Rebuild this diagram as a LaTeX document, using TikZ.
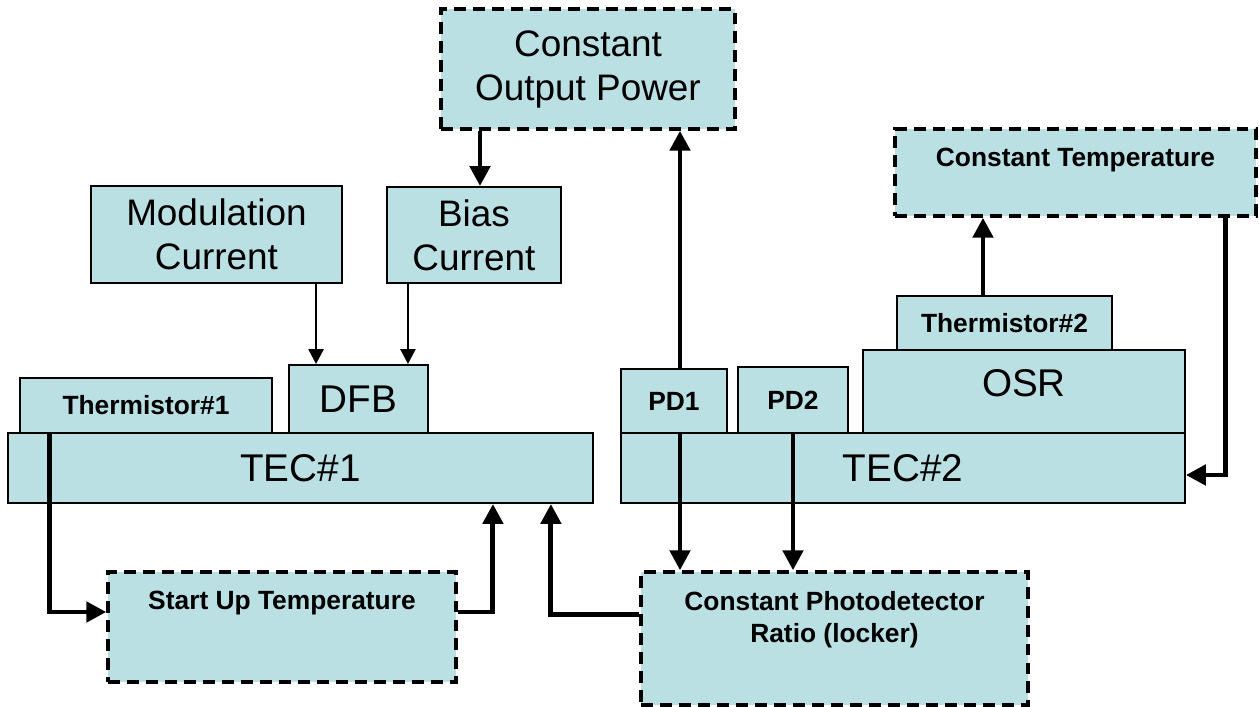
\documentclass[tikz,border=0pt]{standalone}
\usepackage{fontspec}
\setmainfont{Liberation Sans}
\usetikzlibrary{arrows.meta,calc}
\definecolor{boxfill}{RGB}{186,224,227}

\begin{document}
\begin{tikzpicture}[x=0.02cm,y=-0.02cm,
			solidbox/.style={draw, fill=boxfill, line width=1.1pt, inner sep=0pt},
			dashbox/.style={draw, fill=boxfill, line width=2pt, dash pattern=on 6.8pt off 4pt, inner sep=0pt},
			bigtext/.style={font=\fontsize{21}{25}\selectfont, align=center},
			boldtext/.style={font=\fontsize{15}{18}\selectfont\bfseries, align=center},
			thinarrow/.style={line width=1.5pt, -{Triangle[length=0.3cm,width=0.3cm]}},
			thickarrow/.style={line width=2.8pt, -{Triangle[length=0.4cm,width=0.4cm]}}]
			\useasboundingbox (0,0) rectangle (1259,707);
			
			\node[dashbox, bigtext, minimum width=5.88cm, minimum height=2.4cm] (cop) at (588,69) {Constant\\Output Power};
			\node[dashbox, minimum width=7.22cm, minimum height=1.74cm] (ct) at (1075.5,172.5) {};
			\node[boldtext, anchor=north] (ct-t) at ([yshift=-0.3cm]ct.north) {Constant Temperature};
			
			\node[solidbox, bigtext, minimum width=5.02cm, minimum height=1.94cm] (mod) at (216.5,234.5) {Modulation\\Current};
			\node[solidbox, bigtext, minimum width=3.48cm, minimum height=1.92cm] (bias) at (474,235) {Bias\\Current};
			
			\node[solidbox, font=\fontsize{22}{26}\selectfont, minimum width=2.78cm, minimum height=1.36cm] (dfb) at (358.5,399) {DFB};
			\node[solidbox, boldtext, minimum width=5.04cm, minimum height=1.1cm] (th1) at (146,405.5) {Thermistor\#1};
			\node[solidbox, font=\fontsize{22}{26}\selectfont, minimum width=11.7cm, minimum height=1.4cm] (tec1) at (300.5,468) {TEC\#1};
			
			\node[solidbox, boldtext, minimum width=2.12cm, minimum height=1.28cm] (pd1) at (674,401) {PD1};
			\node[solidbox, boldtext, minimum width=2.2cm, minimum height=1.32cm] (pd2) at (793,400) {PD2};
			\node[solidbox, boldtext, minimum width=4.3cm, minimum height=1.08cm] (th2) at (1004.5,323) {Thermistor\#2};
			\node[solidbox, font=\fontsize{22}{26}\selectfont, minimum width=6.44cm, minimum height=1.66cm, text depth=0.35cm] (osr) at (1024,391.5) {OSR};
			\node[solidbox, font=\fontsize{22}{26}\selectfont, minimum width=11.28cm, minimum height=1.4cm] (tec2) at (903,468) {TEC\#2};
			
			\node[dashbox, minimum width=6.96cm, minimum height=2.2cm] (su) at (282,627) {};
			\node[boldtext, anchor=north] (su-t) at ([yshift=-0.3cm]su.north) {Start Up Temperature};
			\node[dashbox, minimum width=7.74cm, minimum height=2.66cm] (cpr) at (834.5,638.5) {};
			\node[boldtext, anchor=north] (cpr-t) at ([yshift=-0.3cm]cpr.north) {Constant Photodetector\\Ratio (locker)};
			
			\draw[thinarrow] ([xshift=0.56cm]dfb.north west |- mod.south) -- ([xshift=0.56cm]dfb.north west);
			\draw[thinarrow] ([xshift=-0.42cm]dfb.north east |- bias.south) -- ([xshift=-0.42cm]dfb.north east);
			\draw[thickarrow] ([xshift=0.12cm]bias.north |- cop.south) -- ([xshift=0.12cm]bias.north);
			\draw[thickarrow] ([xshift=0.12cm]pd1.north) -- ([xshift=0.12cm]pd1.north |- cop.south);
			\draw[thickarrow] ([xshift=-0.43cm]th2.north) -- ([xshift=-0.43cm]th2.north |- ct.south);
			\draw[thickarrow] ([xshift=-0.64cm]ct.south east) |- ([yshift=-0.14cm]tec2.east);
			
			\draw[thickarrow] ([xshift=0.6cm]th1.south west) |- ([yshift=0.3cm]su.west);
			\draw[thickarrow] ([yshift=0.3cm]su.east) -| ([xshift=-2.02cm]tec1.south east);
			\draw[thickarrow] ([yshift=0.48cm]cpr.west) -| ([xshift=-0.86cm]tec1.south east);
			\draw[thickarrow] ([xshift=0.12cm]pd1.south) -- ([xshift=0.12cm]pd1.south |- cpr.north);
			\draw[thickarrow] (pd2.south) -- (pd2.south |- cpr.north);
		\end{tikzpicture}
\end{document}
